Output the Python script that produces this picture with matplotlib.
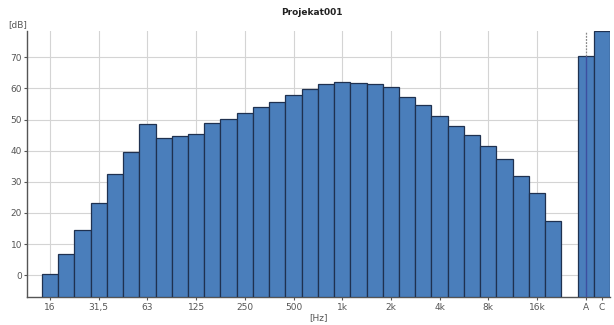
import matplotlib.pyplot as plt
import numpy as np

# 1/3 octave band levels (dB)
bands = ['16', '20', '25', '31,5', '40', '50', '63', '80', '100', '125', '160', '200',
         '250', '315', '400', '500', '630', '800', '1k', '1,25k', '1,6k', '2k', '2,5k',
         '3,15k', '4k', '5k', '6,3k', '8k', '10k', '12,5k', '16k', '20k']
levels = [0.3, 6.7, 14.4, 23.2, 32.5, 39.5, 48.5, 44.1, 44.7, 45.4, 48.8, 50.3,
          52.0, 54.2, 55.7, 58.0, 59.7, 61.3, 62.2, 61.9, 61.5, 60.5, 57.4,
          54.7, 51.2, 47.8, 45.1, 41.5, 37.3, 32.0, 26.5, 17.3]
total_labels = ['A', 'C']
total_levels = [70.3, 78.4]
shown_bands = ['16', '31,5', '63', '125', '250', '500', '1k', '2k', '4k', '8k', '16k']

bar_color = '#4A7EBB'
edge_color = '#1F3150'
grid_color = '#D4D4D4'
floor = -7

fig = plt.figure(figsize=(6.14, 3.25), dpi=100)
ax = fig.add_axes([0.044, 0.086, 0.9495, 0.819])

x = np.arange(len(bands))
x_tot = np.arange(len(total_labels)) + len(bands) + 1

ax.bar(x, [v - floor for v in levels], width=1.0, bottom=floor, color=bar_color,
       edgecolor=edge_color, linewidth=0.9, zorder=3)
ax.bar(x_tot, [v - floor for v in total_levels], width=1.0, bottom=floor,
       color=bar_color, edgecolor=edge_color, linewidth=0.9, zorder=3)

# marker line at A
ax.vlines(x_tot[0], floor, total_levels[0], color='#3D4FA0', linewidth=1.0, zorder=4)
ax.vlines(x_tot[0], total_levels[0], 78.5, color='#888888', linewidth=0.9,
          linestyles=(0, (1.5, 1)), zorder=4)

ticks = [bands.index(b) for b in shown_bands]
for t in ticks:
    ax.axvline(t, color=grid_color, linewidth=0.8, zorder=1)
for yv in range(0, 80, 10):
    ax.axhline(yv, xmin=0, xmax=(x_tot[0] - 0.5 + 1.42) / (x_tot[-1] + 0.5 + 1.42),
               color=grid_color, linewidth=0.8, zorder=1)

ax.set_xticks(ticks + list(x_tot))
ax.set_xticklabels(shown_bands + total_labels)
ax.set_yticks(range(0, 80, 10))
ax.set_xlim(-1.42, x_tot[-1] + 0.5)
ax.set_ylim(floor, 78.5)

for s in ['top', 'right']:
    ax.spines[s].set_visible(False)
for s in ['left', 'bottom']:
    ax.spines[s].set_color('#555555')
    ax.spines[s].set_linewidth(1.0)
ax.tick_params(axis='both', labelsize=6.5, colors='#555555', length=2.5, width=0.8,
               pad=2)
ax.tick_params(axis='y', pad=1)

fig.text(0.508, 0.963, 'Projekat001', ha='center', va='center', fontsize=6.5,
         fontweight='bold', color='#222222')
fig.text(0.028, 0.923, '[dB]', ha='center', va='center', fontsize=6.5, color='#555555')
fig.text(0.518, 0.022, '[Hz]', ha='center', va='center', fontsize=6.5, color='#555555')

fig.savefig('out.png', dpi=100, facecolor='white')
